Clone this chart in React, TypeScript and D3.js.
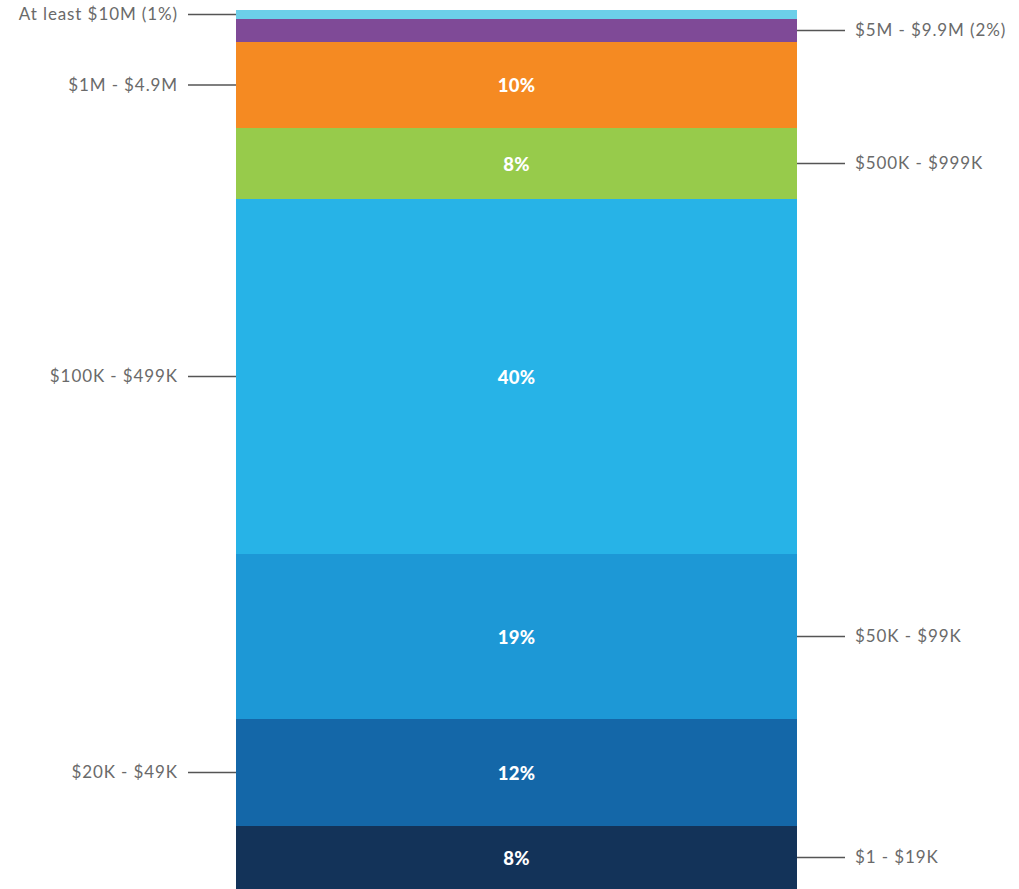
import React from "react";
import * as d3 from "d3";

const categories = [
  "$1 - $19K",
  "$20K - $49K",
  "$50K - $99K",
  "$100K - $499K",
  "$500K - $999K",
  "$1M - $4.9M",
  "$5M - $9.9M (2%)",
  "At least $10M (1%)",
];
const shares = [7.2, 12.2, 18.8, 40.4, 8.1, 9.7, 2.7, 1.0];
const valueLabels = ["8%", "12%", "19%", "40%", "8%", "10%", "", ""];
const sides = ["right", "left", "right", "left", "right", "left", "right", "left"];
const colors = ["#133359", "#1467a8", "#1d98d6", "#27b3e7", "#97cb4b", "#f58a22", "#7f4a97", "#6ccfe9"];

const W = 1019;
const H = 889;
const barLeft = 236;
const barRight = 797;
const top = 10;
const bottom = 889;

export default function App() {
  const total = d3.sum(shares);
  const y = d3.scaleLinear().domain([0, total]).range([bottom, top]);
  const stack = d3.stack<number[]>().keys(categories.map((_, i) => String(i)))
    .value((d, k) => d[+k]);
  const series = stack([shares]);
  const font = "Lato, sans-serif";
  return (
    <svg width={W} height={H} style={{ position: "absolute", left: 0, top: 0 }}>
      {series.map((s, i) => {
        const [y0, y1] = s[0];
        const yt = Math.round(y(y1));
        const yb = Math.round(y(y0));
        const mid = (yt + yb) / 2;
        const side = sides[i];
        return (
          <g key={i}>
            <rect x={barLeft} y={yt} width={barRight - barLeft} height={yb - yt} fill={colors[i]} shapeRendering="crispEdges" />
            {valueLabels[i] && (
              <text x={(barLeft + barRight) / 2} y={mid + 1} dy="0.35em" textAnchor="middle"
                fill="#fff" fontWeight={900} fontSize={18.5} letterSpacing={0.3} fontFamily={font}>{valueLabels[i]}</text>
            )}
            {side === "left" ? (
              <g>
                <line x1={188} x2={barLeft} y1={mid} y2={mid} stroke="#555" strokeWidth={1.3} />
                <text x={178} y={mid} dy="0.35em" textAnchor="end" fill="#6a6a6a" fontSize={17} letterSpacing={0.9} fontFamily={font}>{categories[i]}</text>
              </g>
            ) : (
              <g>
                <line x1={barRight} x2={845} y1={mid} y2={mid} stroke="#555" strokeWidth={1.3} />
                <text x={855} y={mid} dy="0.35em" textAnchor="start" fill="#6a6a6a" fontSize={17} letterSpacing={0.9} fontFamily={font}>{categories[i]}</text>
              </g>
            )}
          </g>
        );
      })}
    </svg>
  );
}
